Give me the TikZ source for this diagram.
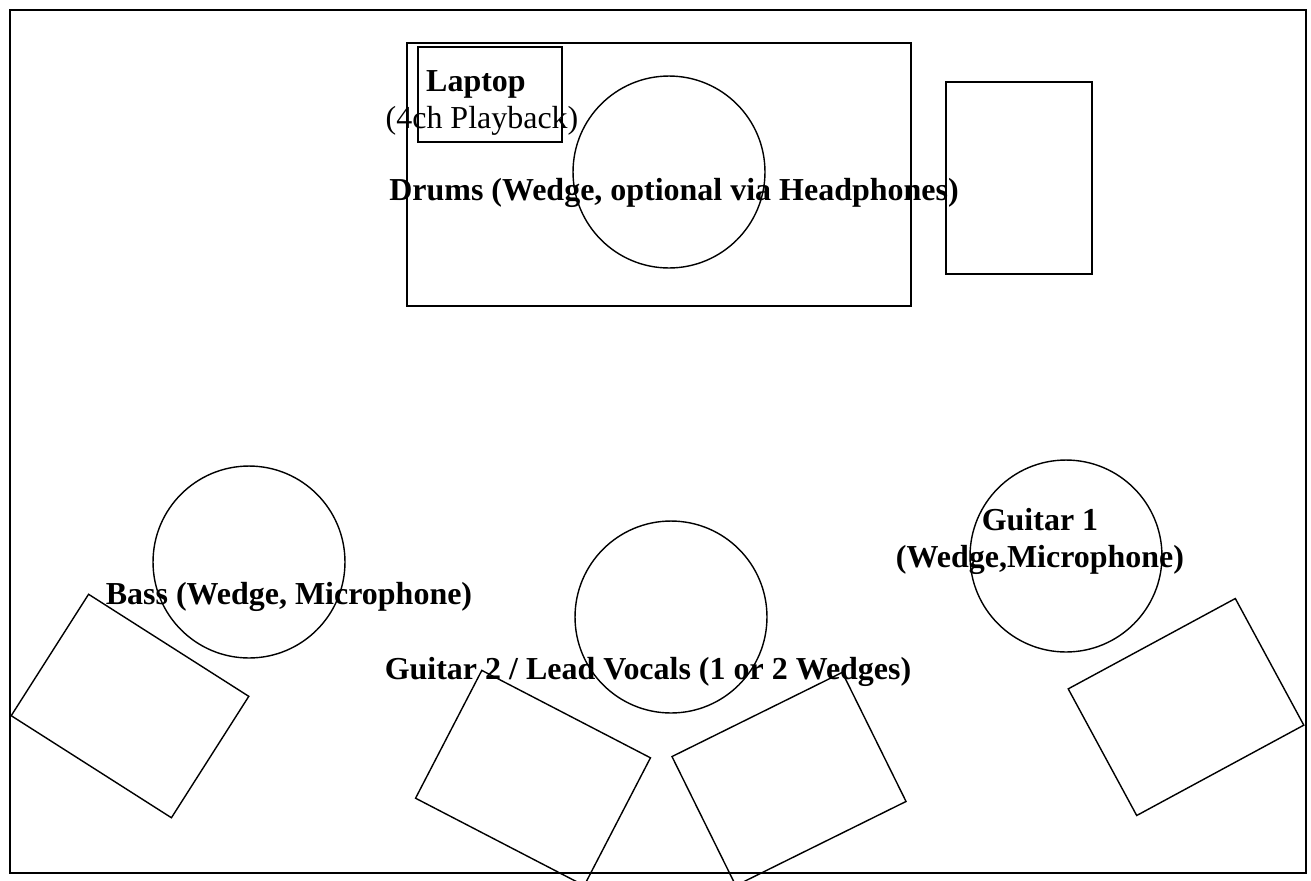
\documentclass[tikz,border=0pt]{standalone}
\usepackage{fontspec}
\setmainfont{Liberation Serif}
\begin{document}
\begin{tikzpicture}[x=0.02cm,y=-0.02cm,
  plan/.style={draw,line width=0.8pt},
  wedge/.style={draw,line width=0.8pt,rectangle,minimum width=3.8cm,minimum height=2.88cm,inner sep=0pt},
  lbl/.style={font=\fontsize{18.2}{20.5}\selectfont\bfseries,anchor=base,inner sep=0pt,align=center}]
  \useasboundingbox (0,0) rectangle (1311,880);
  %Stage outline
  \draw[line width=1.2pt] (10,10) rectangle (1306,873);
  %Drum riser, laptop, drums, side box
  \draw[plan] (407,43) rectangle (911,306);
  \draw[plan] (418,47) rectangle (562,142);
  \draw[plan] (669,172) circle[radius=1.92cm];
  \draw[plan] (946,82) rectangle (1092,274);
  %Front line positions
  \draw[plan] (249,562) circle[radius=1.92cm];
  \draw[plan] (671,617) circle[radius=1.92cm];
  \draw[plan] (1066,556) circle[radius=1.92cm];
  %Wedges
  \node[wedge,rotate=-32.5] (wedgebass) at (130,706) {};
  \node[wedge,rotate=-27.4] (wedgeleft) at (533,778) {};
  \node[wedge,rotate=26.3] (wedgeright) at (789,779) {};
  \node[wedge,rotate=28.4] (wedgegtr) at (1186,707) {};
  %Labels
  \node[lbl] (laptop) at (476,91) {Laptop};
  \node[lbl,font=\fontsize{18.2}{20.5}\selectfont] (playback) at (482,128) {(4ch Playback)};
  \node[lbl] (drums) at (674,200) {Drums (Wedge, optional via Headphones)};
  \node[lbl] (bass) at (289,604) {Bass (Wedge, Microphone)};
  \node[lbl] (guitartwo) at (648,679) {Guitar 2 / Lead Vocals (1 or 2 Wedges)};
  \node[lbl] (guitarone) at (1040,567) {Guitar 1\\(Wedge,Microphone)};
\end{tikzpicture}
\end{document}
